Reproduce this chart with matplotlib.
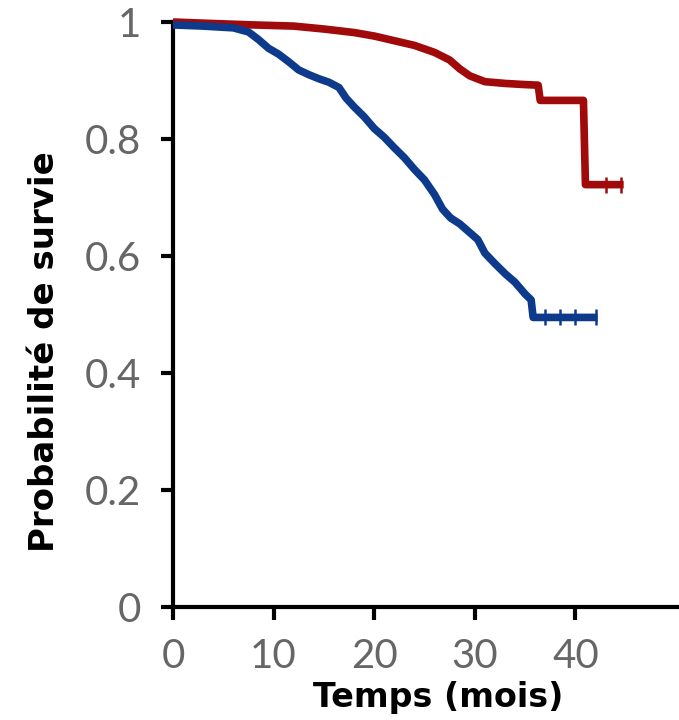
import matplotlib
matplotlib.use("Agg")
import matplotlib.pyplot as plt

# courbes de survie (Kaplan-Meier), temps en mois
red_t = [0, 3, 8, 12, 15, 18, 20, 22, 24, 26, 27.5, 28.5, 29.5, 31, 33, 35, 36.3, 36.5,
         40.8, 41, 44.8]
red_s = [1.0, 0.998, 0.995, 0.993, 0.988, 0.982, 0.976, 0.968, 0.96, 0.948, 0.935, 0.92,
         0.908, 0.898, 0.895, 0.893, 0.892, 0.866, 0.866, 0.722, 0.722]
red_cens = [43.0, 44.5]

blue_t = [0, 3, 6, 7.5, 8.5, 9.5, 10.5, 11.5, 12.5, 13.5, 14.5, 15.5, 16.5, 17.2, 18, 19,
          20, 21, 22, 23, 24, 25, 26, 26.8, 27.6, 28.5, 29.5, 30.3, 31, 32, 33, 34, 35,
          35.6, 35.8, 42.2]
blue_s = [0.995, 0.993, 0.99, 0.983, 0.97, 0.955, 0.945, 0.932, 0.918, 0.91, 0.903, 0.897,
          0.888, 0.87, 0.855, 0.838, 0.818, 0.803, 0.785, 0.768, 0.748, 0.73, 0.705, 0.68,
          0.665, 0.655, 0.64, 0.628, 0.605, 0.587, 0.57, 0.555, 0.535, 0.525, 0.495, 0.495]
blue_cens = [37.0, 38.5, 40.0, 42.0]

x_ticks = [0, 10, 20, 30, 40]
y_ticks = [0, 0.2, 0.4, 0.6, 0.8, 1]
y_labels = ['0', '0.2', '0.4', '0.6', '0.8', '1']

RED = '#a00a0a'
BLUE = '#0e3a8c'

fig = plt.figure(figsize=(6.79, 7.2), dpi=100)
ax = fig.add_axes([173 / 679, 1 - 607 / 720, (679 - 173) / 679, (607 - 22) / 720])


def value_at(t, s, x):
    v = s[0]
    for ti, si in zip(t, s):
        if ti <= x:
            v = si
    return v


for t, s, cens, c in [(red_t, red_s, red_cens, RED), (blue_t, blue_s, blue_cens, BLUE)]:
    ax.plot(t, s, color=c, lw=5.5, solid_joinstyle='round', solid_capstyle='butt',
            clip_on=False, zorder=3)
    ax.plot(cens, [value_at(t, s, x) for x in cens], ls='none', marker='|',
            ms=11, mew=1.8, color=c, clip_on=False, zorder=3)

ax.set_xlim(0, 50.3)
ax.set_ylim(0, 1.0)
ax.set_xticks(x_ticks)
ax.set_yticks(y_ticks)
ax.set_yticklabels(y_labels)

for side in ['top', 'right']:
    ax.spines[side].set_visible(False)
for side in ['left', 'bottom']:
    ax.spines[side].set_linewidth(3)
    ax.spines[side].set_color('black')

ax.tick_params(axis='both', direction='out', length=9, width=3, color='black',
               labelcolor='#666666', labelsize=29)
ax.tick_params(axis='x', pad=13)
ax.tick_params(axis='y', pad=14)
for lab in ax.get_xticklabels() + ax.get_yticklabels():
    lab.set_family('Lato')

fig.text(438 / 679, 1 - 697 / 720, 'Temps (mois)', ha='center', va='center',
         fontsize=24, fontweight='bold', family='DejaVu Sans')
fig.text(45 / 679, 1 - 352 / 720, 'Probabilité de survie', ha='center', va='center',
         rotation=90, fontsize=24.5, fontweight='bold', family='DejaVu Sans')

fig.savefig('out.png', dpi=100)
